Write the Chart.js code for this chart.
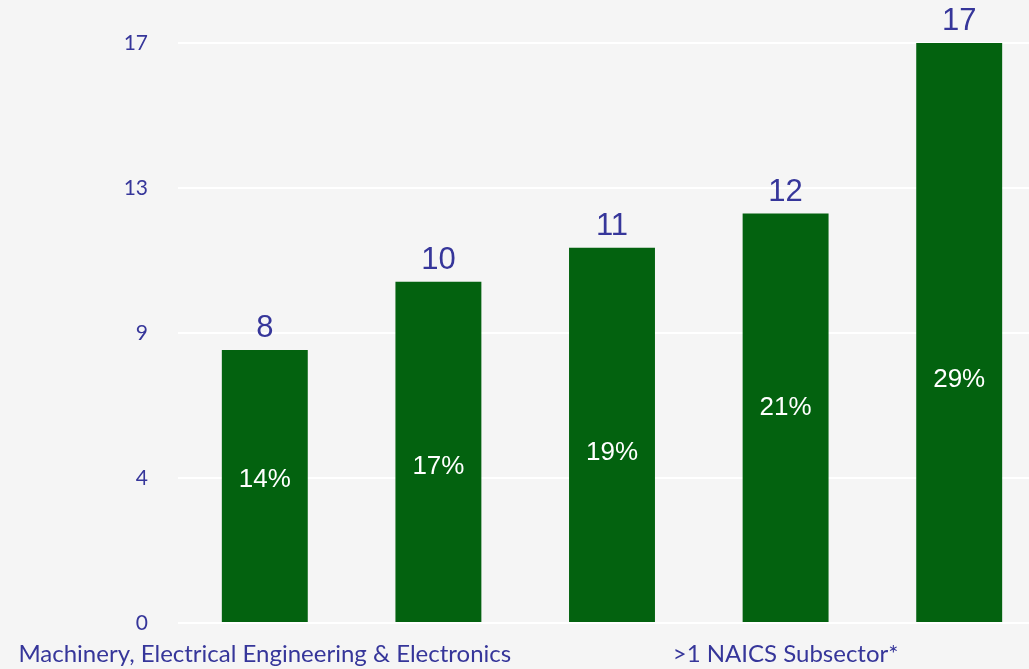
<!DOCTYPE html>
<html lang="en">
<head>
  <meta charset="UTF-8" />
  <title>Companies by subsector</title>
  <style>
    html, body {
      margin: 0;
      padding: 0;
      background: #f5f5f5;
      overflow: hidden;
    }
    #wrap {
      width: 1047px;
      height: 669px;
    }
  </style>
</head>
<body>
  <div id="wrap">
    <canvas id="subsectorChart" width="1047" height="669"></canvas>
  </div>

  <script src="https://cdn.jsdelivr.net/npm/chart.js"></script>
  <script>
    // categories (only the first and fourth names are printed on the axis)
    const categories = [
      "Machinery, Electrical Engineering & Electronics",
      "",
      "",
      ">1 NAICS Subsector*",
      ""
    ];
    const counts = [8, 10, 11, 12, 17];
    const shares = ["14%", "17%", "19%", "21%", "29%"];
    // height (in count units) where each share label sits inside its bar
    const shareAnchors = [4.2, 4.57, 4.98, 6.3, 7.12];
    const yTicks = [0, 4.25, 8.5, 12.75, 17];

    const navy = "#36369a";
    const green = "#03620f";

    // writes counts above the bars and shares inside them
    const barText = {
      id: "barText",
      afterDatasetsDraw(chart) {
        const ctx = chart.ctx;
        const bars = chart.getDatasetMeta(0).data;
        const yScale = chart.scales.y;
        ctx.save();
        ctx.textAlign = "center";
        bars.forEach((bar, i) => {
          ctx.fillStyle = navy;
          ctx.font = "31px 'Liberation Sans', Arial, sans-serif";
          ctx.textBaseline = "alphabetic";
          ctx.fillText(String(counts[i]), bar.x, bar.y - 13);

          ctx.fillStyle = "#ffffff";
          ctx.font = "26px 'Liberation Sans', Arial, sans-serif";
          ctx.textBaseline = "middle";
          ctx.fillText(shares[i], bar.x, yScale.getPixelForValue(shareAnchors[i]));
        });
        ctx.restore();
      }
    };

    new Chart(document.getElementById("subsectorChart"), {
      type: "bar",
      data: {
        labels: categories,
        datasets: [{
          data: counts,
          backgroundColor: green,
          borderWidth: 0,
          barPercentage: 0.99,
          categoryPercentage: 0.5
        }]
      },
      options: {
        responsive: false,
        animation: false,
        layout: { padding: { top: 43, right: 1, left: 0, bottom: 0 } },
        plugins: {
          legend: { display: false },
          tooltip: { enabled: false }
        },
        scales: {
          x: {
            grid: { display: false, drawTicks: false },
            border: { display: false },
            ticks: {
              autoSkip: false,
              maxRotation: 0,
              color: navy,
              padding: 17,
              font: { family: "Lato, 'Open Sans', sans-serif", size: 24 }
            },
            afterFit(scale) {
              scale.height = 46;
              scale.paddingLeft = 0;
              scale.paddingRight = 0;
            }
          },
          y: {
            min: 0,
            max: 17,
            afterBuildTicks(scale) {
              scale.ticks = yTicks.map(v => ({ value: v }));
            },
            grid: { color: "#ffffff", lineWidth: 2, drawTicks: false },
            border: { display: false },
            ticks: {
              color: navy,
              padding: 30,
              font: { family: "Lato, 'Open Sans', sans-serif", size: 21 },
              callback: v => Math.round(v)
            },
            afterFit(scale) { scale.width = 178; }
          }
        }
      },
      plugins: [barText]
    });
  </script>
</body>
</html>
